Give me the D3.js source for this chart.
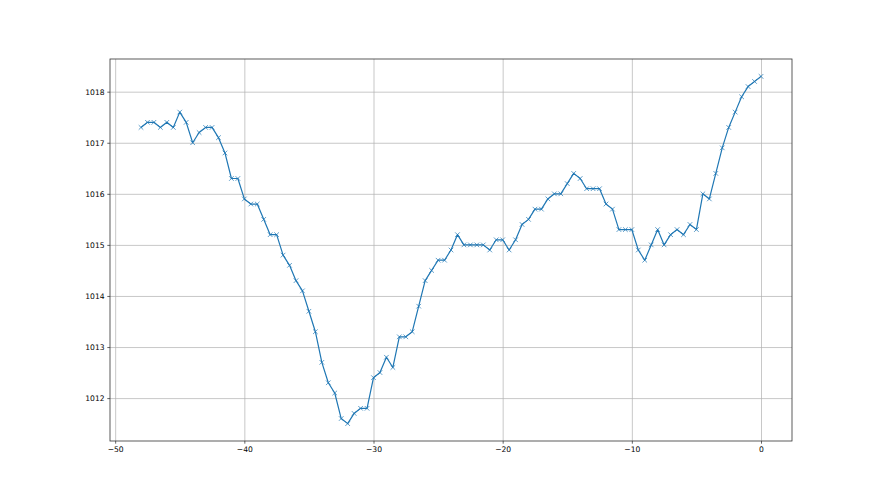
<!DOCTYPE html>
<html>
<head>
<meta charset="utf-8">
<script src="https://cdn.jsdelivr.net/npm/d3@7"></script>
<style>
  body { margin: 0; background: #fff; }
  text { font-family: "DejaVu Sans", sans-serif; }
</style>
</head>
<body>
<div id="chart"></div>
<script>
// hours back from now, half-hour steps
const xStart = -48;
const xStep = 0.5;
const pressure = [
  1017.3, 1017.4, 1017.4, 1017.3, 1017.4, 1017.3, 1017.6, 1017.4, 1017.0, 1017.2,
  1017.3, 1017.3, 1017.1, 1016.8, 1016.3, 1016.3, 1015.9, 1015.8, 1015.8, 1015.5,
  1015.2, 1015.2, 1014.8, 1014.6, 1014.3, 1014.1, 1013.7, 1013.3, 1012.7, 1012.3,
  1012.1, 1011.6, 1011.5, 1011.7, 1011.8, 1011.8, 1012.4, 1012.5, 1012.8, 1012.6,
  1013.2, 1013.2, 1013.3, 1013.8, 1014.3, 1014.5, 1014.7, 1014.7, 1014.9, 1015.2,
  1015.0, 1015.0, 1015.0, 1015.0, 1014.9, 1015.1, 1015.1, 1014.9, 1015.1, 1015.4,
  1015.5, 1015.7, 1015.7, 1015.9, 1016.0, 1016.0, 1016.2, 1016.4, 1016.3, 1016.1,
  1016.1, 1016.1, 1015.8, 1015.7, 1015.3, 1015.3, 1015.3, 1014.9, 1014.7, 1015.0,
  1015.3, 1015.0, 1015.2, 1015.3, 1015.2, 1015.4, 1015.3, 1016.0, 1015.9, 1016.4,
  1016.9, 1017.3, 1017.6, 1017.9, 1018.1, 1018.2, 1018.3
];
const xTicks = [-50, -40, -30, -20, -10, 0];
const yTicks = [1012, 1013, 1014, 1015, 1016, 1017, 1018];

const data = pressure.map((v, i) => ({ x: xStart + i * xStep, y: v }));

const W = 880, H = 495;
const margin = { top: 59, right: 88, bottom: 54, left: 110 };
const width = W - margin.left - margin.right;
const height = H - margin.top - margin.bottom;

const svg = d3.select("#chart")
  .append("svg")
  .attr("width", W)
  .attr("height", H);

const g = svg.append("g")
  .attr("transform", `translate(${margin.left},${margin.top})`);

// matplotlib style 5% padding
const xExt = d3.extent(data, d => d.x);
const yExt = d3.extent(data, d => d.y);
const xPad = (xExt[1] - xExt[0]) * 0.05;
const yPad = (yExt[1] - yExt[0]) * 0.05;

const x = d3.scaleLinear().domain([xExt[0] - xPad, xExt[1] + xPad]).range([0, width]);
const y = d3.scaleLinear().domain([yExt[0] - yPad, yExt[1] + yPad]).range([height, 0]);

// grid
g.append("g")
  .attr("class", "grid")
  .attr("transform", `translate(0,${height})`)
  .call(d3.axisBottom(x).tickValues(xTicks).tickSize(-height).tickFormat(""));
g.append("g")
  .attr("class", "grid")
  .call(d3.axisLeft(y).tickValues(yTicks).tickSize(-width).tickFormat(""));
g.selectAll(".grid .domain").remove();
g.selectAll(".grid line").attr("stroke", "#b0b0b0").attr("stroke-width", 0.7);

// line
g.append("path")
  .datum(data)
  .attr("fill", "none")
  .attr("stroke", "#1f77b4")
  .attr("stroke-width", 1.2)
  .attr("stroke-linejoin", "round")
  .attr("d", d3.line().x(d => x(d.x)).y(d => y(d.y)));

// x markers
const m = 2.3;
g.selectAll(".mark")
  .data(data)
  .enter()
  .append("path")
  .attr("class", "mark")
  .attr("transform", d => `translate(${x(d.x)},${y(d.y)})`)
  .attr("d", `M${-m},${-m}L${m},${m}M${-m},${m}L${m},${-m}`)
  .attr("stroke", "#1f77b4")
  .attr("stroke-opacity", 0.8)
  .attr("stroke-width", 0.9)
  .attr("fill", "none");

// axes
const xAxis = g.append("g")
  .attr("transform", `translate(0,${height})`)
  .call(d3.axisBottom(x).tickValues(xTicks).tickSize(2.7).tickPadding(2.7).tickFormat(d3.format("d")));
const yAxis = g.append("g")
  .call(d3.axisLeft(y).tickValues(yTicks).tickSize(2.7).tickPadding(2.7).tickFormat(d3.format("d")));

[xAxis, yAxis].forEach(a => {
  a.select(".domain").remove();
  a.selectAll("line").attr("stroke", "#222").attr("stroke-width", 0.7);
  a.selectAll("text").attr("fill", "#000").style("font-size", "7.6px");
});

// frame
g.append("rect")
  .attr("width", width)
  .attr("height", height)
  .attr("fill", "none")
  .attr("stroke", "#333")
  .attr("stroke-width", 0.8);
</script>
</body>
</html>
